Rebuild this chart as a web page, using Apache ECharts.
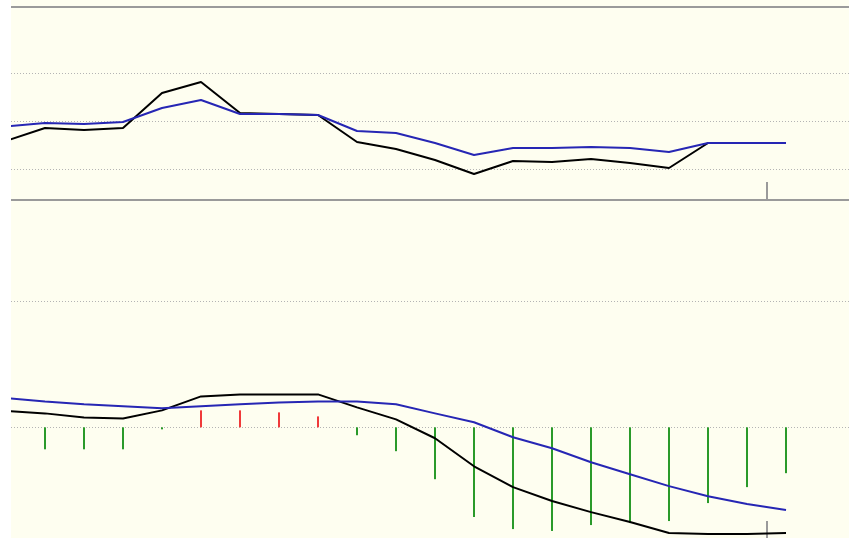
<!DOCTYPE html>
<html>
<head>
<meta charset="utf-8">
<script src="https://cdn.jsdelivr.net/npm/echarts@6/dist/echarts.min.js"></script>
<style>
  html, body { margin: 0; padding: 0; background: #fff; }
  #chart { position: absolute; left: 11px; top: 0; width: 838px; height: 538px; }
</style>
</head>
<body>
<div id="chart"></div>
<script>
// bar index along the time axis
const days = [0, 1, 2, 3, 4, 5, 6, 7, 8, 9, 10, 11, 12, 13, 14, 15, 16, 17, 18, 19, 20];

// upper panel: price (black) and its moving average (blue)
const price = [15.85, 18.54, 18.13, 18.54, 25.83, 28.13, 21.67, 21.46, 21.25, 15.63, 14.17,
  11.88, 8.96, 11.67, 11.46, 12.08, 11.25, 10.21, 15.42, 15.42, 15.42];
const priceAvg = [18.85, 19.58, 19.38, 19.79, 22.71, 24.38, 21.46, 21.46, 21.25, 17.92, 17.5,
  15.42, 12.92, 14.38, 14.38, 14.58, 14.38, 13.54, 15.42, 15.42, 15.42];

// lower panel: MACD (black), signal (blue), histogram (red / green)
const macd = [0.13, 0.111, 0.079, 0.071, 0.135, 0.246, 0.262, 0.262, 0.262, 0.159, 0.063,
  -0.087, -0.31, -0.476, -0.587, -0.675, -0.754, -0.841, -0.849, -0.849, -0.841];
const signal = [0.233, 0.206, 0.183, 0.167, 0.151, 0.167, 0.183, 0.198, 0.206, 0.206, 0.183,
  0.111, 0.04, -0.079, -0.167, -0.278, -0.373, -0.468, -0.548, -0.611, -0.659];
const histogram = [-0.19, -0.175, -0.175, -0.175, -0.016, 0.135, 0.135, 0.119, 0.087, -0.063, -0.19,
  -0.413, -0.714, -0.81, -0.825, -0.778, -0.762, -0.746, -0.603, -0.476, -0.365];

// gridline values and the small marker tick
const priceTicks = [10, 20, 30];
const macdTicks = [0, 1];
const markerTicks = [19.5];

const pairs = (arr) => days.map((d, i) => [d, arr[i]]);

const borderColor = "#9a9a9a";
const dotted = { color: "#b4b4b4", width: 1, type: [1, 2] };

const myChart = echarts.init(document.getElementById("chart"));

myChart.setOption({
  animation: false,
  backgroundColor: "#fefef0",
  grid: [
    { left: 0, right: 0, top: 7, height: 193 },
    { left: 0, right: 0, top: 200, height: 339 },
  ],
  xAxis: [
    {
      type: "value",
      gridIndex: 0,
      min: 0.1282,
      max: 21.615,
      axisLine: { show: true, onZero: false, lineStyle: { color: borderColor, width: 2 } },
      axisTick: {
        show: true,
        inside: true,
        length: 18,
        customValues: markerTicks,
        lineStyle: { color: borderColor, width: 2 },
      },
      axisLabel: { show: false },
      splitLine: { show: false },
    },
    {
      type: "value",
      gridIndex: 0,
      position: "top",
      min: 0,
      max: 1,
      axisLine: { show: true, onZero: false, lineStyle: { color: borderColor, width: 2 } },
      axisTick: { show: false },
      axisLabel: { show: false },
      splitLine: { show: false },
    },
    {
      type: "value",
      gridIndex: 1,
      min: 0.1282,
      max: 21.615,
      axisLine: { show: false, onZero: false },
      axisTick: {
        show: true,
        inside: true,
        length: 17,
        customValues: markerTicks,
        lineStyle: { color: borderColor, width: 2 },
      },
      axisLabel: { show: false },
      splitLine: { show: false },
    },
  ],
  yAxis: [
    {
      type: "value",
      gridIndex: 0,
      min: 3.5417,
      max: 43.75,
      axisLine: { show: false },
      axisTick: { show: false, customValues: priceTicks },
      axisLabel: { show: false },
      splitLine: { show: true, lineStyle: dotted },
    },
    {
      type: "value",
      gridIndex: 1,
      min: -0.881,
      max: 1.8095,
      axisLine: { show: false },
      axisTick: { show: false, customValues: macdTicks },
      axisLabel: { show: false },
      splitLine: { show: true, lineStyle: dotted },
    },
  ],
  series: [
    {
      name: "Price",
      type: "line",
      xAxisIndex: 0,
      yAxisIndex: 0,
      data: pairs(price),
      symbol: "none",
      lineStyle: { color: "#000", width: 2 },
    },
    {
      name: "Average",
      type: "line",
      xAxisIndex: 0,
      yAxisIndex: 0,
      data: pairs(priceAvg),
      symbol: "none",
      lineStyle: { color: "#2626b4", width: 2 },
    },
    {
      name: "Histogram",
      type: "bar",
      xAxisIndex: 2,
      yAxisIndex: 1,
      data: pairs(histogram),
      barWidth: 2,
      itemStyle: {
        color: (p) => (p.value[1] >= 0 ? "#f03a3a" : "#2a9a2a"),
      },
    },
    {
      name: "MACD",
      type: "line",
      xAxisIndex: 2,
      yAxisIndex: 1,
      data: pairs(macd),
      symbol: "none",
      lineStyle: { color: "#000", width: 2 },
    },
    {
      name: "Signal",
      type: "line",
      xAxisIndex: 2,
      yAxisIndex: 1,
      data: pairs(signal),
      symbol: "none",
      lineStyle: { color: "#2626b4", width: 2 },
    },
  ],
});
</script>
</body>
</html>
